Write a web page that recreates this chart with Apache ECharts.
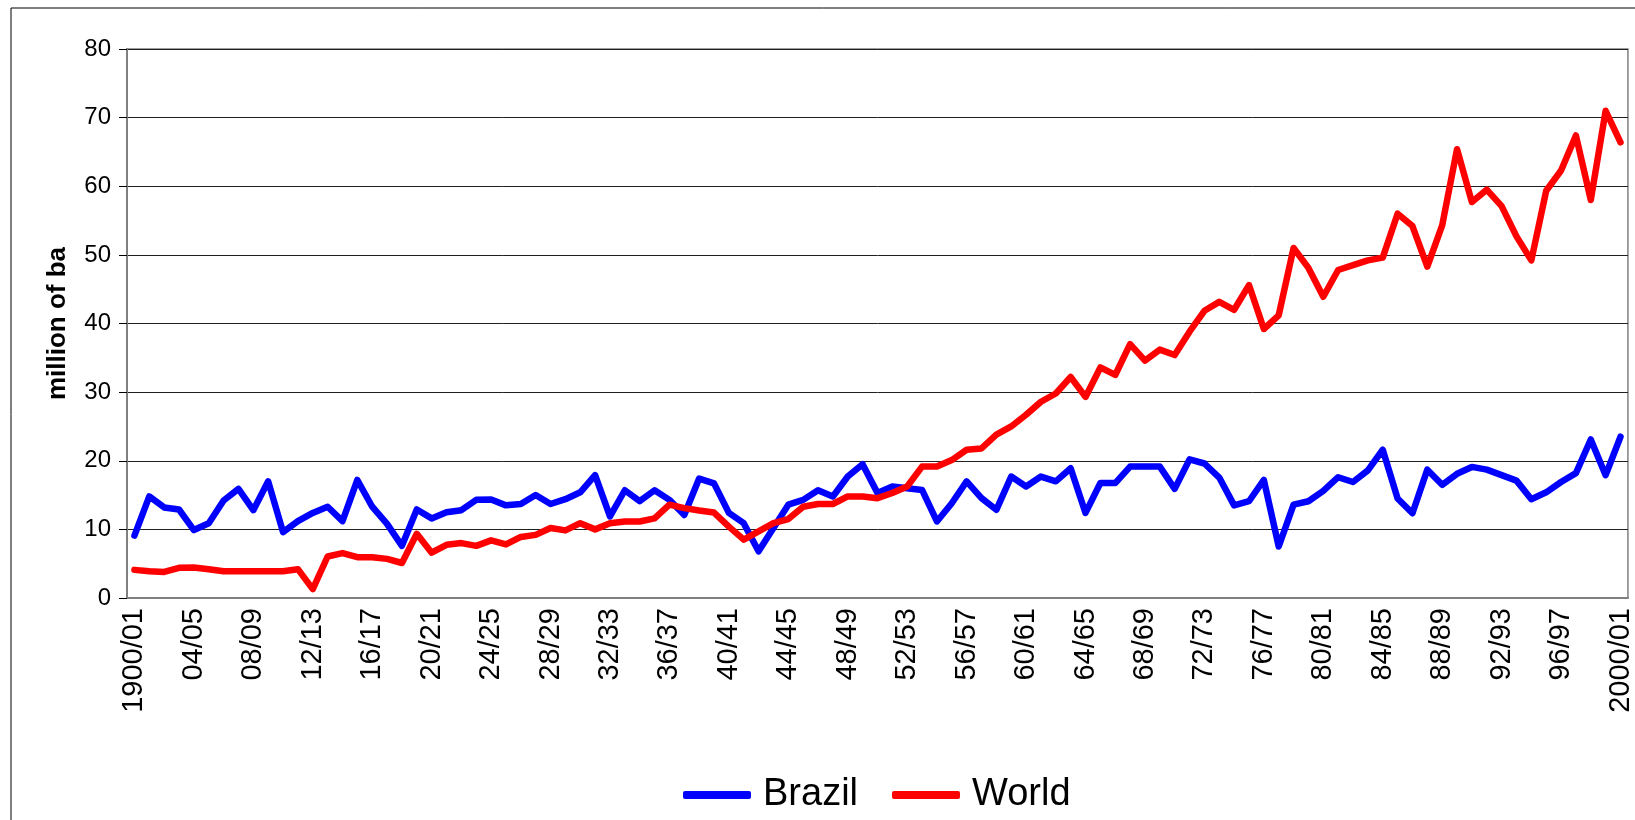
<!DOCTYPE html>
<html>
<head>
<meta charset="utf-8">
<script src="https://cdn.jsdelivr.net/npm/echarts@6/dist/echarts.min.js"></script>
<style>
html,body{margin:0;padding:0;background:#fff;}
#c{width:1635px;height:820px;}
</style>
</head>
<body>
<div id="c"></div>
<script>
// Categories: crop years 1900/01 .. 2000/01
const categories = (function(){
  const out = ['1900/01'];
  for (let y = 1; y <= 99; y++) {
    const a = String(y).padStart(2,'0');
    const b = String((y + 1) % 100).padStart(2,'0');
    out.push(a + '/' + b);
  }
  out.push('2000/01');
  return out;
})();

const brazil = [
  9.1, 14.8, 13.2, 12.9, 9.9, 10.9, 14.2, 15.9, 12.8, 17.0,
  9.6, 11.2, 12.4, 13.3, 11.2, 17.2, 13.3, 10.8, 7.6, 12.9,
  11.6, 12.5, 12.8, 14.3, 14.35, 13.5, 13.7, 15.0, 13.7, 14.4,
  15.4, 17.9, 11.9, 15.7, 14.1, 15.7, 14.3, 12.1, 17.4, 16.7,
  12.4, 10.9, 6.8, 10.2, 13.6, 14.3, 15.7, 14.8, 17.7, 19.5,
  15.3, 16.25, 16.0, 15.75, 11.15, 13.8, 17.0, 14.55, 12.85, 17.7,
  16.25, 17.7, 17.0, 18.9, 12.4, 16.75, 16.75, 19.15, 19.15, 19.15,
  15.9, 20.2, 19.6, 17.55, 13.5, 14.1, 17.2, 7.5, 13.6, 14.1,
  15.6, 17.6, 16.9, 18.6, 21.6, 14.5, 12.35, 18.7, 16.5, 18.1,
  19.1, 18.7, 17.9, 17.1, 14.4, 15.4, 16.9, 18.2, 23.1, 17.9,
  23.5
];

const world = [
  4.1, 3.9, 3.8, 4.4, 4.45, 4.2, 3.9, 3.9, 3.9, 3.9,
  3.9, 4.2, 1.3, 6.05, 6.55, 5.95, 5.95, 5.7, 5.1, 9.35,
  6.6, 7.75, 8.0, 7.6, 8.4, 7.8, 8.9, 9.2, 10.2, 9.85,
  10.9, 10.0, 10.9, 11.15, 11.15, 11.6, 13.6, 13.1, 12.75, 12.45,
  10.4, 8.5, 9.7, 10.9, 11.5, 13.3, 13.7, 13.7, 14.8, 14.8,
  14.55, 15.3, 16.25, 19.15, 19.15, 20.1, 21.6, 21.8, 23.8, 25.0,
  26.7, 28.6, 29.8, 32.2, 29.3, 33.6, 32.5, 37.0, 34.6, 36.2,
  35.4, 38.8, 41.85, 43.15, 42.0, 45.6, 39.2, 41.2, 51.0, 48.1,
  43.9, 47.8, 48.5, 49.2, 49.6, 56.0, 54.2, 48.3, 54.3, 65.4,
  57.7, 59.5, 57.1, 52.7, 49.2, 59.35, 62.3, 67.4, 58.0, 71.0,
  66.4
];

const yTicks = { min: 0, max: 80, interval: 10 };
const yAxisName = 'million of ba';
const seriesNames = ['Brazil', 'World'];

const chart = echarts.init(document.getElementById('c'));
const FONT = '"Liberation Sans", Arial, sans-serif';
chart.setOption({
  animation: false,
  backgroundColor: '#fff',
  textStyle: { fontFamily: FONT, color: '#000' },
  graphic: [{
    type: 'rect',
    shape: { x: 11, y: 8, width: 1700, height: 820 },
    style: { fill: 'none', stroke: '#000', lineWidth: 1 },
    silent: true, z: -10
  }],
  grid: {
    left: 127, right: 7, top: 49, bottom: 222,
    show: true, borderColor: '#808080', borderWidth: 1.5,
    containLabel: false
  },
  legend: {
    left: 678, top: 771,
    itemWidth: 68, itemHeight: 8, itemGap: 34,
    icon: 'roundRect',
    textStyle: { fontSize: 38, color: '#000', fontFamily: FONT, padding: [0, 0, 0, 7] },
    data: seriesNames
  },
  xAxis: {
    type: 'category',
    data: categories,
    boundaryGap: true,
    axisLine: { lineStyle: { color: '#808080', width: 2 } },
    axisTick: { interval: 0, length: 9, inside: false, lineStyle: { color: '#000', width: 1 } },
    axisLabel: { interval: 3, rotate: 90, fontSize: 29, color: '#000', margin: 10, fontFamily: FONT },
    splitLine: { show: false }
  },
  yAxis: {
    type: 'value',
    min: yTicks.min, max: yTicks.max, interval: yTicks.interval,
    name: yAxisName,
    nameLocation: 'middle',
    nameGap: 56,
    nameRotate: 90,
    nameTextStyle: { fontSize: 26, fontWeight: 'bold', color: '#000', fontFamily: FONT },
    axisLine: { show: true, lineStyle: { color: '#808080', width: 2 } },
    axisTick: { show: true, length: 8, lineStyle: { color: '#000', width: 1 } },
    axisLabel: { fontSize: 24, color: '#000', margin: 16, fontFamily: FONT },
    splitLine: { show: true, lineStyle: { color: '#202020', width: 1 } }
  },
  series: [
    {
      name: seriesNames[0], type: 'line', data: brazil,
      showSymbol: false, symbol: 'none',
      lineStyle: { color: '#0000FF', width: 6.5, join: 'round', cap: 'round' },
      itemStyle: { color: '#0000FF' }, z: 3
    },
    {
      name: seriesNames[1], type: 'line', data: world,
      showSymbol: false, symbol: 'none',
      lineStyle: { color: '#FF0000', width: 6.5, join: 'round', cap: 'round' },
      itemStyle: { color: '#FF0000' }, z: 4
    }
  ]
});
</script>
</body>
</html>
